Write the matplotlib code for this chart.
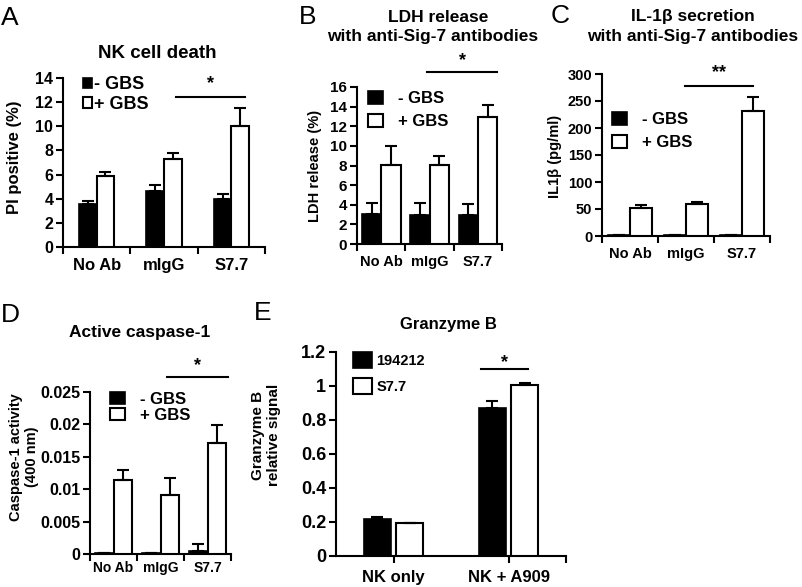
"""Five-panel bar figure: NK cell death, LDH, IL-1b, caspase-1, granzyme B."""

import matplotlib
import numpy as np

matplotlib.use("Agg")
from matplotlib import pyplot as plt  # noqa: E402
from matplotlib.patches import Patch  # noqa: E402
from matplotlib.ticker import FuncFormatter  # noqa: E402

plt.rcParams["font.family"] = ["Liberation Sans", "DejaVu Sans"]
plt.rcParams["font.weight"] = "bold"

W, H = 802, 587

# ---- data -------------------------------------------------------------
treatments = ["No Ab", "mIgG", "S7.7"]

death_neg = [3.55, 4.65, 3.95]
death_neg_err = [0.3, 0.45, 0.4]
death_pos = [5.85, 7.3, 10.0]
death_pos_err = [0.4, 0.5, 1.55]

ldh_neg = [3.1, 3.0, 3.0]
ldh_neg_err = [1.1, 1.2, 1.05]
ldh_pos = [8.1, 8.1, 12.9]
ldh_pos_err = [1.85, 0.85, 1.3]

il1b_neg = [1.0, 1.0, 1.0]
il1b_neg_err = [0.0, 0.0, 0.0]
il1b_pos = [52, 60, 232]
il1b_pos_err = [5, 3, 25]

casp_neg = [0.0001, 0.0001, 0.0004]
casp_neg_err = [0.0, 0.0, 0.0011]
casp_pos = [0.0114, 0.0091, 0.0172]
casp_pos_err = [0.0015, 0.0026, 0.0027]

gzmb_groups = ["NK only", "NK + A909"]
gzmb_ab1 = [0.217, 0.872]
gzmb_ab1_err = [0.01, 0.04]
gzmb_ab2 = [0.196, 1.005]
gzmb_ab2_err = [0.0, 0.012]


def box(left, top, right, bottom):
    return [left / W, 1 - bottom / H, (right - left) / W, (bottom - top) / H]


def fx(x):
    return x / W


def fy(y):
    return 1 - y / H


def bars(ax, neg, neg_err, pos, pos_err, width, offset):
    x = np.arange(len(neg))
    ekw = dict(ecolor="black", elinewidth=1.5, capsize=4, capthick=1.5)
    ax.bar(x - offset, neg, width, color="black", edgecolor="black", linewidth=1.2,
           yerr=[np.zeros(len(neg)), neg_err], error_kw=ekw, zorder=3)
    ax.bar(x + offset, pos, width, color="white", edgecolor="black", linewidth=1.5,
           yerr=[np.zeros(len(pos)), pos_err], error_kw=ekw, zorder=3)
    return x


def style_axes(ax, ymax, ystep, tick_size):
    for side in ("top", "right"):
        ax.spines[side].set_visible(False)
    for side in ("left", "bottom"):
        ax.spines[side].set_linewidth(1.5)
    ax.set_ylim(0, ymax)
    ax.set_yticks(np.arange(0, ymax + ystep / 2, ystep))
    ax.yaxis.set_major_formatter(FuncFormatter(lambda v, _: f"{v:g}"))
    ax.tick_params(axis="both", direction="out", width=1.5, length=5,
                   labelsize=tick_size, pad=2)


def category_axis(ax, labels, size, pad=8):
    n = len(labels)
    ax.set_xlim(-0.5, n - 0.5)
    ax.set_xticks(np.arange(n + 1) - 0.5, [""] * (n + 1))
    ax.set_xticks(np.arange(n), labels, minor=True)
    ax.tick_params(axis="x", which="minor", length=0, labelsize=size, pad=pad)


def sig(ax, x0, x1, y, ystar, mark, size=13):
    ax.plot([x0, x1], [y, y], color="black", lw=1.5, clip_on=False)
    ax.text((x0 + x1) / 2, ystar, mark, ha="center", va="center", fontsize=size,
            clip_on=False)


def legend(ax, labels, anchor, size, hl, hh, pad, spacing):
    handles = [Patch(facecolor="black", edgecolor="black", linewidth=1.2),
               Patch(facecolor="white", edgecolor="black", linewidth=1.5)]
    ax.legend(handles, labels, loc="upper left", bbox_to_anchor=anchor, frameon=False,
              fontsize=size, handlelength=hl, handleheight=hh, handletextpad=pad,
              labelspacing=spacing, borderpad=0, borderaxespad=0)


fig = plt.figure(figsize=(W / 100, H / 100), dpi=100)

# ---- A ----------------------------------------------------------------
ax = fig.add_axes(box(63, 78, 265, 247))
bars(ax, death_neg, death_neg_err, death_pos, death_pos_err, 0.26, 0.13)
style_axes(ax, 14, 2, 11.5)
category_axis(ax, treatments, 12)
legend(ax, ["- GBS", "+ GBS"], (0.1, 1.01), 13, 0.5, 0.5, 0.12, 0.15)
sig(ax, 1.18, 2.2, 12.45, 13.5, "*")
fig.text(fx(157), fy(53), "NK cell death", ha="center", va="center", fontsize=13.5)
fig.text(fx(15), fy(157), "PI positive (%)", rotation=90, ha="center", va="center",
         fontsize=12)

# ---- B ----------------------------------------------------------------
ax = fig.add_axes(box(357, 87, 502, 244))
bars(ax, ldh_neg, ldh_neg_err, ldh_pos, ldh_pos_err, 0.4, 0.2)
style_axes(ax, 16, 2, 11)
category_axis(ax, treatments, 10.5)
legend(ax, ["- GBS", "+ GBS"], (0.076, 0.975), 12, 0.9, 0.85, 0.9, 0.45)
sig(ax, 0.95, 2.4, 17.5, 18.7, "*")
fig.text(fx(438), fy(18), "LDH release", ha="center", va="center", fontsize=12.5)
fig.text(fx(433), fy(36), "with anti-Sig-7 antibodies", ha="center", va="center",
         fontsize=12.5)
fig.text(fx(315), fy(166), "LDH release (%)", rotation=90, ha="center", va="center",
         fontsize=10.5)

# ---- C ----------------------------------------------------------------
ax = fig.add_axes(box(602, 74, 770, 236))
bars(ax, il1b_neg, il1b_neg_err, il1b_pos, il1b_pos_err, 0.4, 0.2)
style_axes(ax, 300, 50, 10.5)
category_axis(ax, treatments, 10.5)
legend(ax, ["- GBS", "+ GBS"], (0.06, 0.765), 12, 0.9, 0.85, 0.9, 0.45)
sig(ax, 0.98, 2.2, 278, 303, "**")
fig.text(fx(693), fy(17), "IL-1\u03b2 secretion", ha="center", va="center",
         fontsize=12.5)
fig.text(fx(693), fy(37), "with anti-Sig-7 antibodies", ha="center", va="center",
         fontsize=12.5)
fig.text(fx(555), fy(156), "IL1\u03b2 (pg/ml)", rotation=90, ha="center", va="center",
         fontsize=10.5)

# ---- D ----------------------------------------------------------------
ax = fig.add_axes(box(90, 392, 231, 554))
bars(ax, casp_neg, casp_neg_err, casp_pos, casp_pos_err, 0.4, 0.2)
style_axes(ax, 0.025, 0.005, 11.5)
category_axis(ax, treatments, 10, pad=5)
legend(ax, ["- GBS", "+ GBS"], (0.14, 1.0), 12, 0.9, 0.72, 0.9, 0.05)
sig(ax, 1.14, 2.44, 0.0273, 0.0291, "*")
fig.text(fx(140), fy(333), "Active caspase-1", ha="center", va="center", fontsize=12.5)
fig.text(fx(24), fy(457), "Caspase-1 activity\n(400 nm)", rotation=90, ha="center",
         va="center", fontsize=10.5, multialignment="center", linespacing=1.1)

# ---- E ----------------------------------------------------------------
ax = fig.add_axes(box(336, 352, 566, 556))
x = np.arange(len(gzmb_groups))
bars(ax, gzmb_ab1, gzmb_ab1_err, gzmb_ab2, gzmb_ab2_err, 0.235, 0.14)
style_axes(ax, 1.2, 0.2, 13)
ax.set_xlim(-0.5, 1.5)
ax.set_xticks(x, gzmb_groups)
ax.set_xticks([1.5], minor=True)
ax.tick_params(axis="x", which="both", length=5, width=1.5, labelsize=12, pad=5)
legend(ax, ["194212", "S7.7"], (0.075, 1.0), 10.5, 1.3, 1.3, 0.3, 0.7)
sig(ax, 0.76, 1.17, 1.098, 1.14, "*")
fig.text(fx(448), fy(325), "Granzyme B", ha="center", va="center", fontsize=12)
fig.text(fx(266), fy(435), "Granzyme B\nrelative signal", rotation=90, ha="center",
         va="center", fontsize=11, multialignment="center", linespacing=1.1)

# ---- panel letters ----------------------------------------------------
for letter, px, py in [("A", 10, 18), ("B", 308, 17), ("C", 560, 16),
                       ("D", 10, 315), ("E", 263, 313)]:
    fig.text(fx(px), fy(py), letter, ha="center", va="center", fontsize=19,
             fontweight="normal")

fig.savefig("out.png", dpi=100)
plt.close(fig)
